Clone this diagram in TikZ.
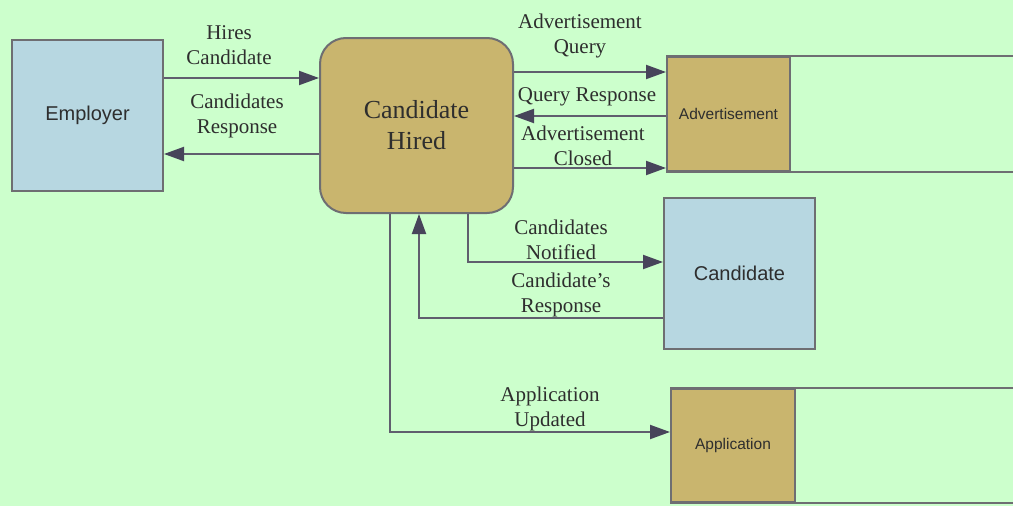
\documentclass[tikz,border=0pt]{standalone}
\usepackage{fontspec}
\setmainfont{Liberation Serif}
\newfontfamily\arialf{Liberation Sans}
\usetikzlibrary{arrows.meta}
\definecolor{bg}{HTML}{CCFFCC}
\definecolor{bluef}{HTML}{B7D7E1}
\definecolor{tanf}{HTML}{C9B56E}
\definecolor{edge}{HTML}{6E6E72}
\definecolor{linec}{HTML}{605E6E}
\definecolor{tipc}{HTML}{47445A}
\definecolor{txt}{HTML}{2E2E2E}
\tikzset{
  entity/.style={draw=edge, line width=2pt, fill=bluef, inner sep=0pt, text=txt,
    minimum width=151pt, minimum height=151pt, font=\arialf\fontsize{20}{24}\selectfont},
  proc/.style={draw=edge, line width=2pt, fill=tanf, inner sep=0pt, text=txt,
    rounded corners=26pt, minimum width=193pt, minimum height=175pt, align=center,
    font=\fontsize{26}{31}\selectfont},
  storebox/.style={draw=edge, line width=2pt, fill=tanf, inner sep=0pt, text=txt,
    font=\arialf\fontsize{15.5}{18}\selectfont},
  storeline/.style={draw=edge, line width=2pt},
  flow/.style={draw=linec, line width=2pt,
    -{Triangle[length=20pt,width=14pt,color=tipc,fill=tipc]}},
  lbl/.style={align=center, inner sep=0pt, text=txt, font=\fontsize{21}{25}\selectfont}
}
\begin{document}
\begin{tikzpicture}[x=1pt,y=-1pt]
\fill[bg] (0,0) rectangle (1013,506);
\useasboundingbox (0,0) rectangle (1013,506);

% nodes
\node[entity] (emp) at (87.5,115.5) {Employer};
\node[proc] (ch) at (416.5,125.5) {Candidate\\Hired};
\node[storebox, minimum width=123pt, minimum height=114pt] (adv) at (728.5,114) {Advertisement};
\node[entity] (cand) at (739.5,273.5) {Candidate};
\node[storebox, minimum width=124pt, minimum height=113pt] (app) at (733,445.5) {Application};

% open data-store lines
\draw[storeline] (adv.north west) -- (adv.north west -| 1015,0);
\draw[storeline] (adv.south west) -- (adv.south west -| 1015,0);
\draw[storeline] (app.north west) -- (app.north west -| 1015,0);
\draw[storeline] (app.south west) -- (app.south west -| 1015,0);

% flows
\draw[flow] (emp.east |- 0,78) -- (ch.west |- 0,78);
\draw[flow] (ch.west |- 0,154) -- (emp.east |- 0,154);
\draw[flow] (ch.east |- 0,72) -- (adv.west |- 0,72);
\draw[flow] (adv.west |- 0,116) -- (ch.east |- 0,116);
\draw[flow] (ch.east |- 0,168) -- (adv.west |- 0,168);
\draw[flow] (ch.south -| 468,0) |- (cand.west |- 0,262);
\draw[flow] (cand.west |- 0,318) -| (ch.south -| 419,0);
\draw[flow] (ch.south -| 390,0) |- (app.west |- 0,432);

% labels
\node[lbl] (l1) at (229,44.7) {Hires\\Candidate};
\node[lbl] (l2) at (237,115.7) {Candidates\\Response};
\node[lbl] (l3) at (580,36) {Advertisement\\Query};
\node[lbl] (l4) at (587,97) {Query Response};
\node[lbl] (l5) at (583,145.7) {Advertisement\\Closed};
\node[lbl] (l6) at (561,239.7) {Candidates\\Notified};
\node[lbl] (l7) at (561,295) {Candidate's\\Response};
\node[lbl] (l8) at (550,408.7) {Application\\Updated};
\end{tikzpicture}
\end{document}
